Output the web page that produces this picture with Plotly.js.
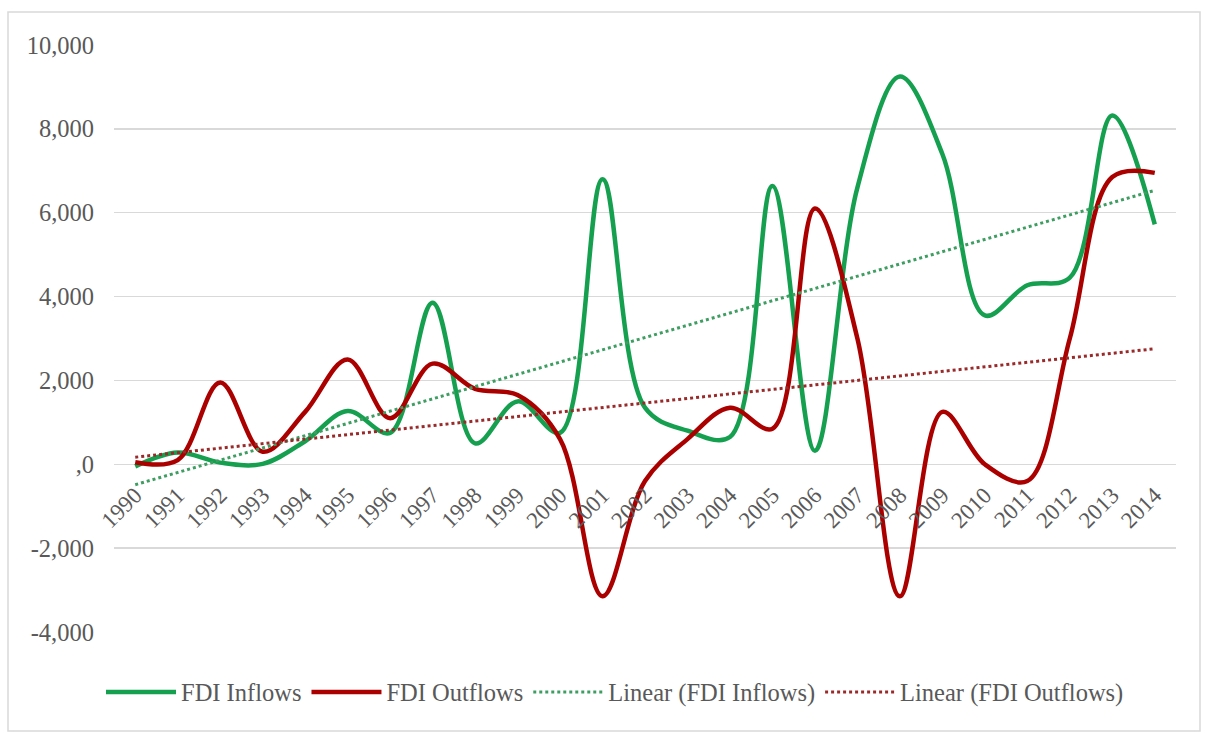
<!DOCTYPE html>
<html>
<head>
<meta charset="utf-8">
<script src="https://cdn.plot.ly/plotly-3.0.1.min.js"></script>
<style>
  html, body { margin: 0; padding: 0; background: #ffffff; }
  #chart { width: 1206px; height: 733px; }
</style>
</head>
<body>
<div id="chart"></div>
<script>
// ---- data ----
const years = ['1990','1991','1992','1993','1994','1995','1996','1997','1998','1999','2000','2001','2002',
               '2003','2004','2005','2006','2007','2008','2009','2010','2011','2012','2013','2014'];
const fdiInflows  = [-50, 280, 40, 10, 550, 1270, 750, 3850, 500, 1500, 750, 6800, 1350,
                     800, 650, 6640, 320, 6600, 9250, 7400, 3550, 4270, 4450, 8320, 5720];
const fdiOutflows = [50, 100, 1950, 300, 1250, 2500, 1100, 2400, 1800, 1650, 600, -3150, -400,
                     600, 1350, 850, 6100, 3000, -3150, 1250, 0, -400, 3000, 6850, 6950];
const yTickVals = [-4000, -2000, 0, 2000, 4000, 6000, 8000, 10000];
const yTickText = ['-4,000', '-2,000', ',0', '2,000', '4,000', '6,000', '8,000', '10,000'];
const seriesNames = ['FDI Inflows', 'FDI Outflows', 'Linear (FDI Inflows)', 'Linear (FDI Outflows)'];

// least-squares linear trend (as Excel's "Linear" trendline)
function linearTrend(vals) {
  const n = vals.length;
  let sx = 0, sy = 0, sxx = 0, sxy = 0;
  vals.forEach((v, i) => { sx += i; sy += v; sxx += i * i; sxy += i * v; });
  const b = (n * sxy - sx * sy) / (n * sxx - sx * sx);
  const a = (sy - b * sx) / n;
  return vals.map((_, i) => a + b * i);
}

const FONT = '"Liberation Serif", "Times New Roman", serif';
const TXT = '#595959';
const GREEN = '#15A04F';
const RED = '#AA0000';
const yMin = -4000, yMax = 10000;

const traces = [
  { x: years, y: fdiInflows, name: seriesNames[0], type: 'scatter', mode: 'lines',
    line: { color: GREEN, width: 4.5, shape: 'spline', smoothing: 1 } },
  { x: years, y: fdiOutflows, name: seriesNames[1], type: 'scatter', mode: 'lines',
    line: { color: RED, width: 4.5, shape: 'spline', smoothing: 1 } },
  { x: years, y: linearTrend(fdiInflows), name: seriesNames[2], type: 'scatter', mode: 'lines',
    line: { color: '#3E9E62', width: 3, dash: 'dot' } },
  { x: years, y: linearTrend(fdiOutflows), name: seriesNames[3], type: 'scatter', mode: 'lines',
    line: { color: '#9A2A2A', width: 3, dash: 'dot' } }
];

const L = 114, R = 30, T = 45, B = 101, W = 1206, H = 733;
const pw = W - L - R, ph = H - T - B;

const layout = {
  width: W, height: H,
  margin: { l: L, r: R, t: T, b: B, pad: 0 },
  paper_bgcolor: '#ffffff', plot_bgcolor: '#ffffff',
  font: { family: FONT, color: TXT, size: 22 },
  showlegend: true,
  legend: {
    orientation: 'h', x: (615 - L) / pw, xanchor: 'center', y: (T + ph - 692) / ph, yanchor: 'middle',
    font: { family: FONT, size: 24.5, color: TXT }, itemwidth: 70, bgcolor: 'rgba(0,0,0,0)'
  },
  xaxis: {
    type: 'category', range: [-0.5, years.length - 0.5],
    anchor: 'free', position: (0 - yMin) / (yMax - yMin),
    showgrid: false, zeroline: false, showline: false, ticks: '',
    tickangle: -45, ticklabelstandoff: 12, tickfont: { family: FONT, size: 23, color: TXT },
    fixedrange: true
  },
  yaxis: {
    range: [yMin, yMax], tickvals: yTickVals, ticktext: yTickText,
    showgrid: true, gridcolor: '#D9D9D9', gridwidth: 1.5,
    zeroline: false, showline: false, ticks: '',
    ticklabelstandoff: 19,
    tickfont: { family: FONT, size: 24.5, color: TXT }, fixedrange: true
  },
  shapes: [{
    type: 'rect', xref: 'paper', yref: 'paper',
    x0: (8 - L) / pw, x1: (1200 - L) / pw,
    y0: (T + ph - 731) / ph, y1: (T + ph - 12) / ph,
    line: { color: '#D9D9D9', width: 1.5 }, fillcolor: 'rgba(0,0,0,0)', layer: 'below'
  }]
};

Plotly.newPlot('chart', traces, layout, { displayModeBar: false, staticPlot: true });
</script>
</body>
</html>
